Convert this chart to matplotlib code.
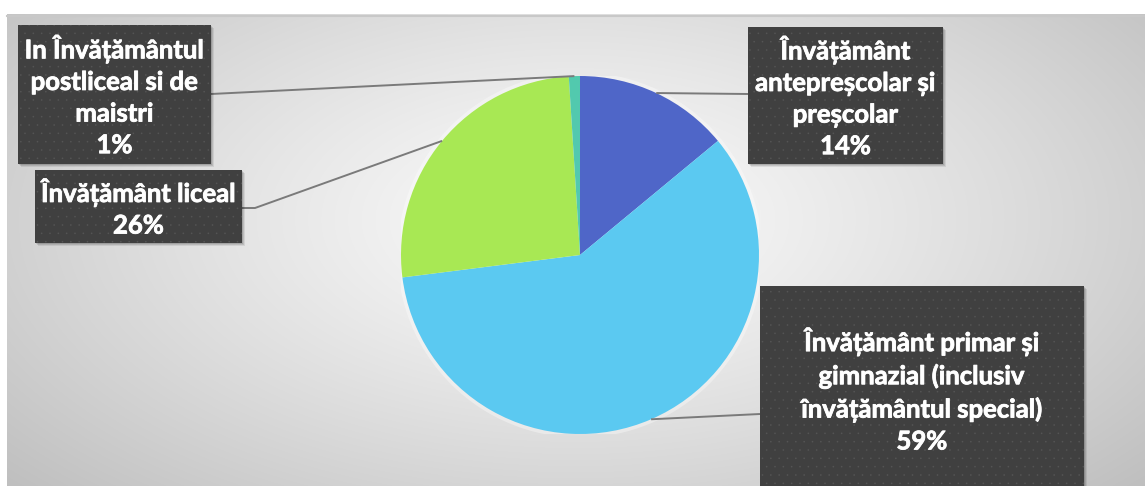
import numpy as np
import matplotlib
matplotlib.use("Agg")
import matplotlib.pyplot as plt
from matplotlib.patches import Rectangle
import matplotlib.patheffects as pe_

# ---- data ----
categories = [
    "Învățământ\nantepreșcolar și\npreșcolar",
    "Învățământ primar și\ngimnazial (inclusiv\nînvățământul special)",
    "Învățământ liceal",
    "In Învățământul\npostliceal si de\nmaistri",
]
values = [14, 59, 26, 1]
colors = ["#4F66C8", "#5BC9F1", "#A8E854", "#52C9AE"]

W, H = 1145, 486
DPI = 100
fig = plt.figure(figsize=(W / DPI, H / DPI), dpi=DPI)
fig.patch.set_facecolor("white")

# ---- background gradient (chart area) ----
bg = fig.add_axes([0, 0, 1, 1])
bg.set_xlim(0, W)
bg.set_ylim(H, 0)
bg.axis("off")
x0, y0 = 7, 15
xx, yy = np.meshgrid(np.arange(x0, W), np.arange(y0, H))
d = np.sqrt(((xx - 575) / 620.0) ** 2 + ((yy - 220) / 320.0) ** 2)
v = 251 - (251 - 190) * np.clip(d / 1.25, 0, 1.15) ** 1.2
img = np.dstack([v, v, v]) / 255.0
bg.imshow(img, extent=(x0, W, H, y0), aspect="auto", zorder=0)
bg.plot([x0, W], [y0 + 1, y0 + 1], color="#c8c8c8", lw=1.5, zorder=1)

# ---- pie ----
cx, cy, r = 580, 255, 179
ax = fig.add_axes([(cx - r) / W, (H - cy - r) / H, 2 * r / W, 2 * r / H])
ax.add_patch(plt.Circle((0, 0), 1.02, facecolor="white", alpha=0.35, lw=0))
wedges, _ = ax.pie(values, colors=colors, startangle=90, counterclock=False,
                   radius=1, wedgeprops=dict(linewidth=0))
ax.set_xlim(-1, 1)
ax.set_ylim(-1, 1)
ax.set_aspect("auto")
ax.axis("off")

# overlay for boxes / lines
ov = fig.add_axes([0, 0, 1, 1])
ov.set_xlim(0, W)
ov.set_ylim(H, 0)
ov.axis("off")
ov.patch.set_alpha(0)

plt.rcParams["hatch.linewidth"] = 0.0

def pie_edge(w):
    ang = np.deg2rad((w.theta1 + w.theta2) / 2)
    p = ax.transData.transform((np.cos(ang), np.sin(ang)))
    return ov.transData.inverted().transform(p)

boxes = [  # x0, y0, x1, y1 ; anchor of leader line on box ; elbow
    (748, 27, 943, 164, (748, 94), None),
    (760, 286, 1084, 492, (760, 414), None),
    (35, 170, 242, 243, (242, 208), (255, 208)),
    (18, 25, 211, 164, (211, 94), None),
]

total = sum(values)
for i, (cat, val, w) in enumerate(zip(categories, values, wedges)):
    bx0, by0, bx1, by1, anc, elbow = boxes[i]
    pe = pie_edge(w)
    pts = [anc] + ([elbow] if elbow else []) + [tuple(pe)]
    ov.plot([p[0] for p in pts], [p[1] for p in pts], color="#7A7A7A",
            lw=1.4, zorder=2, solid_capstyle="butt")
    # shadow
    for k, a in [(4, 0.08), (3, 0.1), (2, 0.12)]:
        ov.add_patch(Rectangle((bx0 + k - 1, by0 + k - 1), bx1 - bx0, by1 - by0,
                               facecolor="black", alpha=a, lw=0, zorder=3))
    ov.add_patch(Rectangle((bx0, by0), bx1 - bx0, by1 - by0,
                           facecolor="#404040", edgecolor="#555555",
                           hatch="..", lw=0, zorder=4))
    pct = round(val / total * 100)
    ov.text((bx0 + bx1) / 2, (by0 + by1) / 2 + 1, f"{cat}\n{pct}%",
            ha="center", va="center", color="white", fontsize=18.5,
            fontweight="bold", family="Lato", linespacing=1.38, zorder=5,
            path_effects=[pe_.withStroke(linewidth=0.6, foreground="white")])

fig.savefig("out.png", dpi=DPI)
